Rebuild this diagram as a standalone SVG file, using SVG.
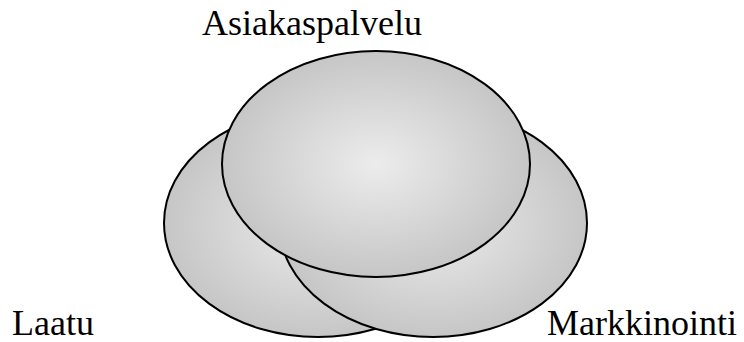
<svg xmlns="http://www.w3.org/2000/svg" width="744" height="342" viewBox="0 0 744 342">
<defs>
<radialGradient id="g" cx="0.5" cy="0.5" r="0.5">
<stop offset="0" stop-color="#ececec"/>
<stop offset="1" stop-color="#c6c6c6"/>
</radialGradient>
<style>
.e{fill:url(#g);stroke:#000;stroke-width:2}
.t{font-family:"Times New Roman","Liberation Serif",Times,serif;font-size:36px;fill:#000}
</style>
</defs>
<g id="laatu">
<ellipse class="e" cx="318" cy="223" rx="154" ry="114"/>
<text class="t" x="12" y="335">Laatu</text>
</g>
<g id="markkinointi">
<ellipse class="e" cx="433" cy="223" rx="154" ry="114"/>
<text class="t" x="547" y="335">Markkinointi</text>
</g>
<g id="asiakaspalvelu">
<ellipse class="e" cx="376" cy="164" rx="154" ry="113"/>
<text class="t" x="202" y="35">Asiakaspalvelu</text>
</g>
<g id="connectors"/>
</svg>
